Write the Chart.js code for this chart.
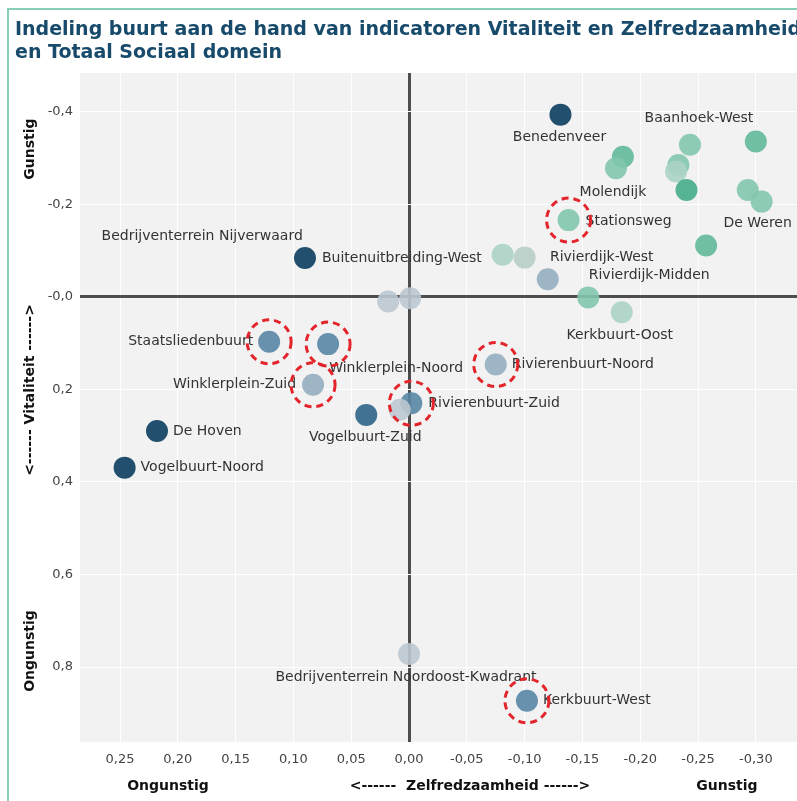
<!DOCTYPE html>
<html>
<head>
<meta charset="utf-8">
<script src="https://cdn.jsdelivr.net/npm/chart.js@4.4.1/dist/chart.umd.min.js"></script>
<style>
  body { margin: 0; background: #fff; }
  #wrap { position: relative; width: 797px; height: 801px; overflow: hidden; }
  #rand { position: absolute; left: 7px; top: 8px; width: 900px; height: 900px;
          border-left: 2px solid #86ceb5; border-top: 2px solid #86ceb5; }
  canvas { position: absolute; left: 0; top: 0; }
</style>
</head>
<body>
<div id="wrap">
  <div id="rand"></div>
  <canvas id="buurtChart" width="797" height="801"></canvas>
</div>
<script>
// buurten (lege naam = geen label in de grafiek)
const buurten = [
    'Benedenveer', 'Baanhoek-West', '', '', 'Molendijk', '', '', '', '', 'De Weren',
    'Stationsweg', '', '', '', 'Rivierdijk-West', 'Rivierdijk-Midden', 'Kerkbuurt-Oost',
    'Bedrijventerrein Nijverwaard', '', 'Buitenuitbreiding-West', 'Staatsliedenbuurt',
    'Winklerplein-Noord', 'Winklerplein-Zuid', 'Vogelbuurt-Zuid', 'Rivierenbuurt-Zuid', '',
    'Rivierenbuurt-Noord', 'De Hoven', 'Vogelbuurt-Noord',
    'Bedrijventerrein Noordoost-Kwadrant', 'Kerkbuurt-West'
];

// Zelfredzaamheid (x-as, omgekeerd)
const zelfredzaamheid = [
    -0.131, -0.243, -0.300, -0.185, -0.179, -0.233, -0.231, -0.240, -0.293, -0.305,
    -0.138, -0.257, -0.081, -0.100, -0.120, -0.155, -0.184,
    0.018, -0.001, 0.090, 0.121,
    0.070, 0.083, 0.037, -0.002, 0.008,
    -0.075, 0.218, 0.246,
    0.000, -0.102
];

// Vitaliteit (y-as, omgekeerd)
const vitaliteit = [
    -0.394, -0.329, -0.336, -0.303, -0.278, -0.285, -0.271, -0.231, -0.231, -0.206,
    -0.166, -0.111, -0.091, -0.085, -0.038, 0.001, 0.033,
    0.010, 0.003, -0.084, 0.097,
    0.102, 0.190, 0.255, 0.230, 0.244,
    0.146, 0.290, 0.369,
    0.772, 0.873
];

// klasse Totaal Sociaal domein (0 = ongunstig ... 8 = gunstig)
const klasse = [
    0, 6, 7, 7, 6, 6, 5, 8, 6, 6,
    6, 7, 5, 9, 3, 6, 5,
    4, 4, 0, 2,
    2, 3, 1, 2, 4,
    3, 0, 0,
    4, 2
];

// buurten met rode cirkel
const uitgelicht = [
    'Stationsweg', 'Staatsliedenbuurt', 'Winklerplein-Noord', 'Winklerplein-Zuid',
    'Rivierenbuurt-Zuid', 'Rivierenbuurt-Noord', 'Kerkbuurt-West'
];

// as-ticks
const xTicks = [0.25, 0.20, 0.15, 0.10, 0.05, 0.00, -0.05, -0.10, -0.15, -0.20, -0.25, -0.30];
const xTickLabels = ['0,25', '0,20', '0,15', '0,10', '0,05', '0,00', '-0,05', '-0,10', '-0,15', '-0,20', '-0,25', '-0,30'];
const yTicks = [-0.4, -0.2, 0.0, 0.2, 0.4, 0.6, 0.8];
const yTickLabels = ['-0,4', '-0,2', '-0,0', '0,2', '0,4', '0,6', '0,8'];

// kleuren per klasse
const palet = ['#0b3d5e', '#2d6488', '#5886a5', '#94aec0', '#bcc8d0',
               '#abd3c4', '#82c7ad', '#62b99a', '#45ad8a', '#b6cec6'];

// plaatsing van de labels t.o.v. het punt: [dx, dy, uitlijning]
const labelPlek = {
    'Benedenveer': [-1, 23, 'center'],
    'Baanhoek-West': [9, -26, 'center'],
    'Molendijk': [-3, 24, 'center'],
    'De Weren': [-4, 22, 'center'],
    'Stationsweg': [17, 1, 'left'],
    'Rivierdijk-West': [54, -22, 'center'],
    'Rivierdijk-Midden': [61, -22, 'center'],
    'Kerkbuurt-Oost': [-2, 23, 'center'],
    'Bedrijventerrein Nijverwaard': [-186, -65, 'center'],
    'Buitenuitbreiding-West': [17, 0, 'left'],
    'Staatsliedenbuurt': [-16, 0, 'right'],
    'Winklerplein-Noord': [68, 24, 'center'],
    'Winklerplein-Zuid': [-17, 0, 'right'],
    'Vogelbuurt-Zuid': [-1, 22, 'center'],
    'Rivierenbuurt-Zuid': [17, 0, 'left'],
    'Rivierenbuurt-Noord': [16, 0, 'left'],
    'De Hoven': [16, 0, 'left'],
    'Vogelbuurt-Noord': [16, 0, 'left'],
    'Bedrijventerrein Noordoost-Kwadrant': [-3, 23, 'center'],
    'Kerkbuurt-West': [16, 0, 'left']
};

const punten = zelfredzaamheid.map((x, i) => ({ x: x, y: vitaliteit[i] }));

// achtergrond plotvlak
const plotAchtergrond = {
    id: 'plotAchtergrond',
    beforeDraw(chart) {
        const { ctx, chartArea: a } = chart;
        ctx.save();
        ctx.fillStyle = '#f2f2f2';
        ctx.fillRect(a.left, a.top, a.right - a.left, a.bottom - a.top);
        ctx.restore();
    }
};

// labels, rode cirkels, titel en as-teksten
const annotaties = {
    id: 'annotaties',
    afterDatasetsDraw(chart) {
        const { ctx } = chart;
        const xs = chart.scales.x, ys = chart.scales.y;
        ctx.save();
        ctx.font = '14px "DejaVu Sans", sans-serif';
        ctx.fillStyle = '#333333';
        ctx.textBaseline = 'middle';
        buurten.forEach((naam, i) => {
            if (!naam || !labelPlek[naam]) return;
            const [dx, dy, align] = labelPlek[naam];
            ctx.textAlign = align;
            ctx.fillText(naam, xs.getPixelForValue(zelfredzaamheid[i]) + dx,
                         ys.getPixelForValue(vitaliteit[i]) + dy);
        });

        ctx.strokeStyle = '#e3242b';
        ctx.lineWidth = 3;
        ctx.setLineDash([7, 5]);
        uitgelicht.forEach(naam => {
            const i = buurten.indexOf(naam);
            ctx.beginPath();
            ctx.arc(xs.getPixelForValue(zelfredzaamheid[i]), ys.getPixelForValue(vitaliteit[i]), 22, 0, Math.PI * 2);
            ctx.stroke();
        });
        ctx.restore();
    },
    afterDraw(chart) {
        const { ctx } = chart;
        ctx.save();
        // titel
        ctx.fillStyle = '#174a6b';
        ctx.font = 'bold 19px "DejaVu Sans", sans-serif';
        ctx.textAlign = 'left';
        ctx.textBaseline = 'alphabetic';
        ctx.fillText('Indeling buurt aan de hand van indicatoren Vitaliteit en Zelfredzaamheid', 15, 35);
        ctx.fillText('en Totaal Sociaal domein', 15, 58);

        // x-as teksten
        ctx.fillStyle = '#111111';
        ctx.font = 'bold 14px "DejaVu Sans", sans-serif';
        ctx.textAlign = 'center';
        ctx.textBaseline = 'middle';
        ctx.fillText('Ongunstig', 168, 786);
        ctx.fillText('<------  Zelfredzaamheid ------>', 470, 786);
        ctx.fillText('Gunstig', 727, 786);

        // y-as teksten
        ctx.save();
        ctx.translate(30, 0);
        ctx.rotate(-Math.PI / 2);
        ctx.fillText('Gunstig', -149, 0);
        ctx.fillText('<------ Vitaliteit ------>', -390, 0);
        ctx.fillText('Ongunstig', -651, 0);
        ctx.restore();
        ctx.restore();
    }
};

function rasterKleur(c) {
    return c.tick && c.tick.value === 0 ? '#4d4d4d' : '#ffffff';
}
function rasterDikte(c) {
    return c.tick && c.tick.value === 0 ? 3 : 1;
}

new Chart(document.getElementById('buurtChart').getContext('2d'), {
    type: 'scatter',
    data: {
        datasets: [{
            data: punten,
            backgroundColor: klasse.map(k => palet[k] + 'e6'),
            borderWidth: 0,
            pointRadius: 11,
            pointHoverRadius: 11
        }]
    },
    options: {
        responsive: false,
        animation: false,
        layout: { autoPadding: false, padding: { top: 73, left: 0, right: 0, bottom: 0 } },
        plugins: {
            legend: { display: false },
            tooltip: { enabled: false }
        },
        scales: {
            x: {
                type: 'linear',
                reverse: true,
                min: -0.3356,
                max: 0.2846,
                afterFit: s => { s.height = 59; s.paddingLeft = 0; s.paddingRight = 0; },
                afterBuildTicks: s => { s.ticks = xTicks.map(v => ({ value: v })); },
                ticks: {
                    padding: 10,
                    color: '#444444',
                    font: { family: 'DejaVu Sans', size: 13 },
                    maxRotation: 0,
                    autoSkip: false,
                    callback: (v, i) => xTickLabels[i]
                },
                grid: { color: rasterKleur, lineWidth: rasterDikte, drawTicks: false },
                border: { display: false }
            },
            y: {
                type: 'linear',
                reverse: true,
                min: -0.484,
                max: 0.962,
                afterFit: s => { s.width = 80; s.paddingTop = 0; s.paddingBottom = 0; },
                afterBuildTicks: s => { s.ticks = yTicks.map(v => ({ value: v })); },
                ticks: {
                    padding: 7,
                    color: '#444444',
                    font: { family: 'DejaVu Sans', size: 13 },
                    autoSkip: false,
                    callback: (v, i) => yTickLabels[i]
                },
                grid: { color: rasterKleur, lineWidth: rasterDikte, drawTicks: false },
                border: { display: false }
            }
        }
    },
    plugins: [plotAchtergrond, annotaties]
});
</script>
</body>
</html>
